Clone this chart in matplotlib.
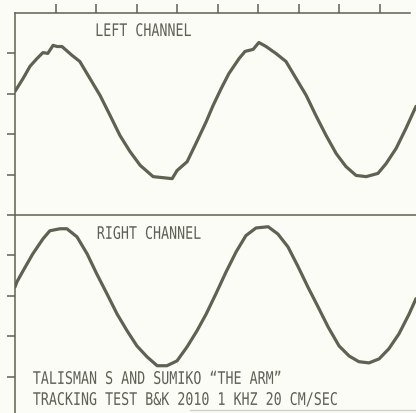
import matplotlib
matplotlib.use("Agg")
import matplotlib.pyplot as plt
from matplotlib.patheffects import AbstractPathEffect
from matplotlib.transforms import Affine2D

# ---- data (time and deflection in screen divisions) ----
left_t = [0.00, 0.20, 0.37, 0.54, 0.69, 0.81, 0.94, 1.04, 1.16, 1.41, 1.60, 1.85,
          2.10, 2.35, 2.59, 2.84, 3.09, 3.41, 3.88, 4.00, 4.25, 4.49, 4.72, 4.89,
          5.09, 5.28, 5.53, 5.68, 5.88, 6.02, 6.20, 6.44, 6.69, 6.94, 7.19, 7.43,
          7.68, 7.93, 8.17, 8.42, 8.67, 8.96, 9.16, 9.41, 9.65, 9.90]
left_v = [0.56, 0.88, 1.18, 1.37, 1.52, 1.50, 1.70, 1.67, 1.67, 1.45, 1.30, 0.88,
          0.46, -0.04, -0.53, -0.93, -1.27, -1.55, -1.60, -1.40, -1.18, -0.68, -0.19, 0.21,
          0.63, 1.00, 1.37, 1.55, 1.60, 1.77, 1.67, 1.50, 1.30, 0.88, 0.46, -0.04,
          -0.53, -0.98, -1.30, -1.52, -1.55, -1.47, -1.23, -0.85, -0.36, 0.19]

right_t = [0.00, 0.05, 0.20, 0.44, 0.69, 0.86, 1.11, 1.28, 1.53, 1.78, 2.02, 2.27,
           2.52, 2.77, 3.01, 3.26, 3.51, 3.75, 4.00, 4.25, 4.49, 4.72, 4.96, 5.21,
           5.46, 5.70, 5.95, 6.25, 6.49, 6.74, 6.99, 7.23, 7.48, 7.73, 8.00, 8.25,
           8.49, 8.74, 8.99, 9.23, 9.48, 9.73, 9.90]
right_v = [0.22, 0.35, 0.62, 1.04, 1.41, 1.61, 1.66, 1.66, 1.46, 1.04, 0.54, 0.05,
           -0.45, -0.87, -1.24, -1.51, -1.73, -1.73, -1.61, -1.26, -0.87, -0.45, 0.05, 0.59,
           1.09, 1.49, 1.68, 1.71, 1.53, 1.21, 0.72, 0.22, -0.27, -0.77, -1.24, -1.49,
           -1.63, -1.66, -1.56, -1.31, -0.94, -0.45, -0.07]

x_ticks = [1, 2, 3, 4, 5, 6, 7, 8, 9]
y_ticks = [1, 2, 3, 4, 5, 6, 7, 8, 9]
left_center = 2.5
right_center = 7.0
divider = 5.0

label_left = "LEFT CHANNEL"
label_right = "RIGHT CHANNEL"
caption1 = "TALISMAN S AND SUMIKO \u201cTHE ARM\u201d"
caption2 = "TRACKING TEST B&K 2010 1 KHZ 20 CM/SEC"


class Stretch(AbstractPathEffect):
    """Draw text glyphs tall and narrow, like the plotter lettering."""
    def __init__(self, sx, sy):
        super().__init__()
        self.sx = sx
        self.sy = sy

    def draw_path(self, renderer, gc, tpath, affine, rgbFace=None):
        renderer.draw_path(gc, tpath, Affine2D().scale(self.sx, self.sy) + affine, rgbFace)


# ---- style ----
bg = "#fcfcf7"
ink = "#5f6253"
text_ink = "#5e6154"
fam = ["DejaVu Sans Mono"]
pe = [Stretch(0.96, 1.25)]

fig = plt.figure(figsize=(4.16, 4.14), dpi=100, facecolor=bg)
ax = fig.add_axes([15 / 416, 0, 401 / 416, 400 / 414])
ax.set_facecolor(bg)
ax.set_xlim(0, 9.9)
ax.set_ylim(9.9, 0)

for s in ["right", "bottom"]:
    ax.spines[s].set_visible(False)
for s in ["left", "top"]:
    ax.spines[s].set_color(ink)
    ax.spines[s].set_linewidth(1.1)
ax.spines["top"].set_bounds(0, 9.75)

ax.xaxis.tick_top()
ax.set_xticks(x_ticks)
ax.set_yticks(y_ticks)
ax.tick_params(axis="x", direction="out", length=6.5, width=1.1, color=ink,
               labeltop=False, labelbottom=False)
ax.tick_params(axis="y", direction="out", length=5.8, width=1.1, color=ink,
               labelleft=False)

ax.axhline(divider, color=ink, lw=1.1)

ax.plot(left_t, [left_center - v for v in left_v], color=ink, lw=2.3,
        solid_joinstyle="round", solid_capstyle="round")
ax.plot(right_t, [right_center - v for v in right_v], color=ink, lw=2.3,
        solid_joinstyle="round", solid_capstyle="round")

for x, y, s in [(1.98, 0.57, label_left), (2.02, 5.59, label_right),
                (0.44, 9.18, caption1), (0.44, 9.70, caption2)]:
    ax.text(x, y, s, family=fam, fontsize=10, color=text_ink, va="baseline",
            path_effects=pe)

ax.plot([4.33, 9.9], [9.82, 9.82], color="#cfd0c8", lw=1.0)

fig.savefig("out.png", dpi=100, facecolor=bg)
